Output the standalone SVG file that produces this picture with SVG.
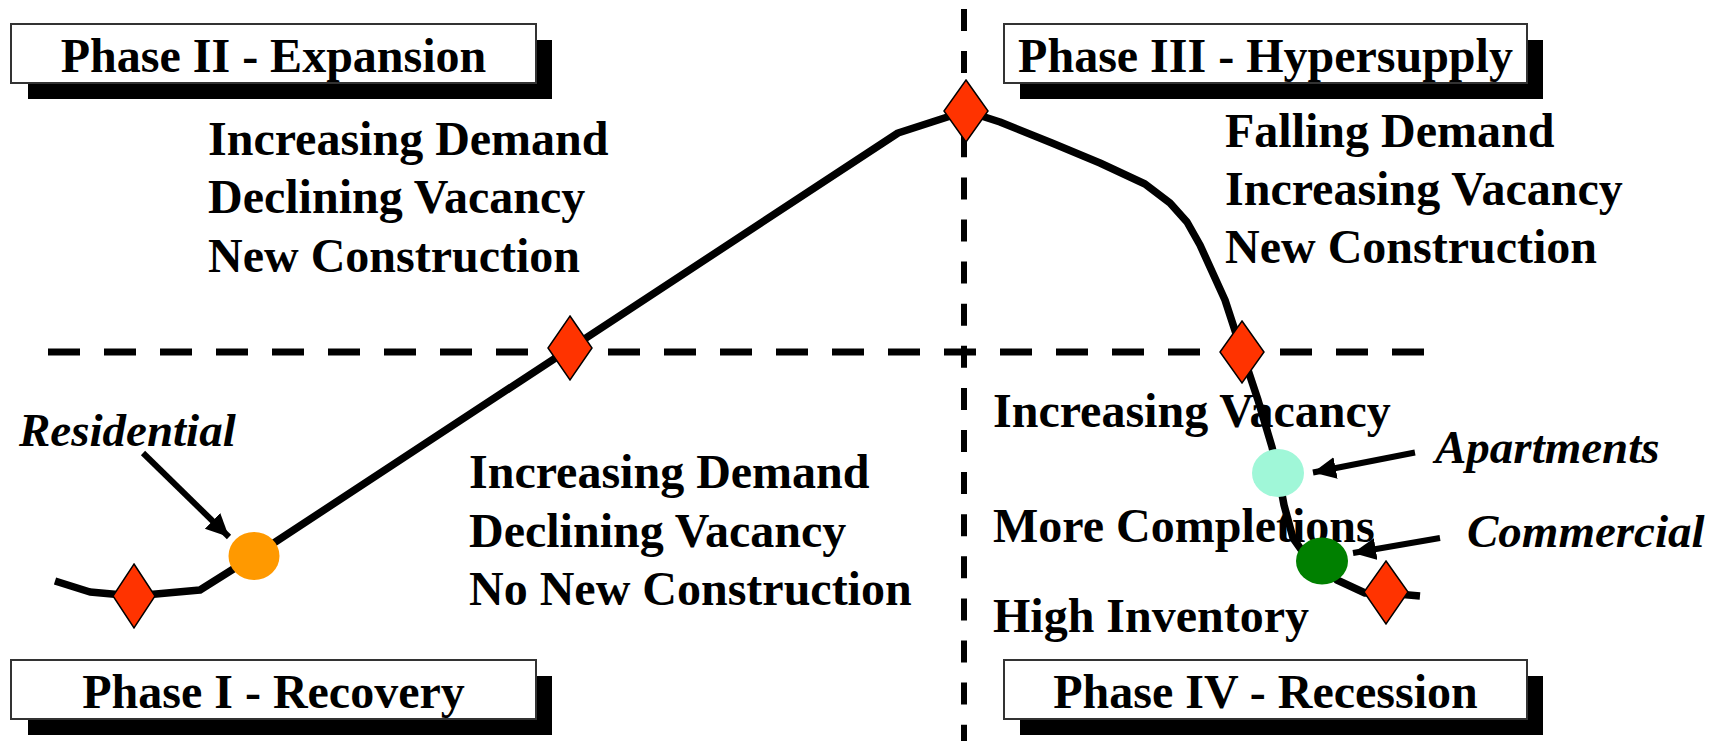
<svg xmlns="http://www.w3.org/2000/svg" width="1721" height="741" viewBox="0 0 1721 741">
  <style>
    .label { font-family: "Liberation Serif", "Times New Roman", serif; font-weight: bold; font-size: 48px; fill: #000; }
    .phase { font-family: "Liberation Serif", "Times New Roman", serif; font-weight: bold; font-size: 48px; fill: #000; text-anchor: middle; }
    .tag { font-family: "Liberation Serif", "Times New Roman", serif; font-weight: bold; font-style: italic; font-size: 47px; fill: #000; }
    .box { fill: #fff; stroke: #333; stroke-width: 2; }
    .shadow { fill: #000; }
    .diamond { fill: #ff3300; stroke: #000; stroke-width: 1.5; }
    .curve { fill: none; stroke: #000; stroke-width: 7.5; stroke-linejoin: round; }
    .pointer { fill: none; stroke: #000; stroke-width: 6; marker-end: url(#head); }
    .axis { fill: none; stroke: #000; }
  </style>
  <defs>
    <marker id="head" markerUnits="userSpaceOnUse" markerWidth="26" markerHeight="24" refX="23" refY="11" orient="auto">
      <path d="M0,0 L23,11 L0,22 Z" fill="#000"/>
    </marker>
  </defs>

  <!-- quadrant dividers -->
  <g id="axes">
    <line class="axis" x1="48" y1="352" x2="1424" y2="352" stroke-width="7" stroke-dasharray="32 24"/>
    <line class="axis" x1="964" y1="9" x2="964" y2="741" stroke-width="6" stroke-dasharray="22 20.1"/>
  </g>

  <!-- phase headers -->
  <g id="phase2">
    <rect class="shadow" x="28" y="40" width="524" height="59"/>
    <rect class="box" x="11" y="24" width="525" height="59"/>
    <text class="phase" x="273.5" y="71.5">Phase II - Expansion</text>
  </g>
  <g id="phase3">
    <rect class="shadow" x="1020" y="40" width="523" height="59"/>
    <rect class="box" x="1004" y="24" width="523" height="59"/>
    <text class="phase" x="1265.5" y="71.5">Phase III - Hypersupply</text>
  </g>
  <g id="phase1">
    <rect class="shadow" x="28" y="676" width="524" height="59"/>
    <rect class="box" x="11" y="660" width="525" height="59"/>
    <text class="phase" x="273.5" y="707.5">Phase I - Recovery</text>
  </g>
  <g id="phase4">
    <rect class="shadow" x="1020" y="676" width="523" height="59"/>
    <rect class="box" x="1004" y="660" width="523" height="59"/>
    <text class="phase" x="1265.5" y="707.5">Phase IV - Recession</text>
  </g>

  <!-- quadrant descriptions -->
  <g id="expansion-notes">
    <text class="label" x="208" y="155">Increasing Demand</text>
    <text class="label" x="208" y="213">Declining Vacancy</text>
    <text class="label" x="208" y="271.5">New Construction</text>
  </g>
  <g id="hypersupply-notes">
    <text class="label" x="1225" y="147">Falling Demand</text>
    <text class="label" x="1225" y="205">Increasing Vacancy</text>
    <text class="label" x="1225" y="263">New Construction</text>
  </g>
  <g id="recovery-notes">
    <text class="label" x="469" y="488">Increasing Demand</text>
    <text class="label" x="469" y="546.5">Declining Vacancy</text>
    <text class="label" x="469" y="605">No New Construction</text>
  </g>

  <!-- market cycle curve -->
  <g id="cycle">
    <polyline class="curve" points="55,581 90,592 134,596 200,590 254,556 898,133 966,111 1000,122 1052,143 1100,163 1145,184 1170,203 1187,222 1200,245 1225,300 1242,352 1258,400 1272,447 1278,473 1284,505 1293,538 1305,555 1322,565 1337,580 1365,593 1386,593 1420,596"/>
  </g>

  <g id="recession-notes">
    <text class="label" x="993" y="426.5">Increasing Vacancy</text>
    <text class="label" x="993" y="541.5">More Completions</text>
    <text class="label" x="993" y="631.5">High Inventory</text>
  </g>

  <!-- turning points -->
  <g id="turning-points">
    <polygon class="diamond" points="134,564 155,596 134,628 113,596"/>
    <polygon class="diamond" points="570,316 592,348 570,380 548,348"/>
    <polygon class="diamond" points="966,80 988,111 966,142 944,111"/>
    <polygon class="diamond" points="1242,321 1264,352 1242,383 1220,352"/>
    <polygon class="diamond" points="1386,561 1408,592 1386,624 1364,592"/>
  </g>

  <!-- property sector markers -->
  <g id="residential">
    <ellipse cx="254" cy="556" rx="25.5" ry="24" fill="#ff9900"/>
    <text class="tag" x="19" y="446">Residential</text>
  </g>
  <g id="apartments">
    <ellipse cx="1278" cy="473" rx="26" ry="24" fill="#a0f7d8"/>
    <text class="tag" x="1435" y="463">Apartments</text>
  </g>
  <g id="commercial">
    <ellipse cx="1322" cy="561" rx="26" ry="23.5" fill="#008000"/>
    <text class="tag" x="1467" y="547">Commercial</text>
  </g>

  <!-- label pointers -->
  <g id="connectors">
    <line class="pointer" x1="143" y1="453" x2="229" y2="537"/>
    <line class="pointer" x1="1415" y1="452.5" x2="1313" y2="472.5"/>
    <line class="pointer" x1="1440" y1="538" x2="1353" y2="553"/>
  </g>
</svg>
